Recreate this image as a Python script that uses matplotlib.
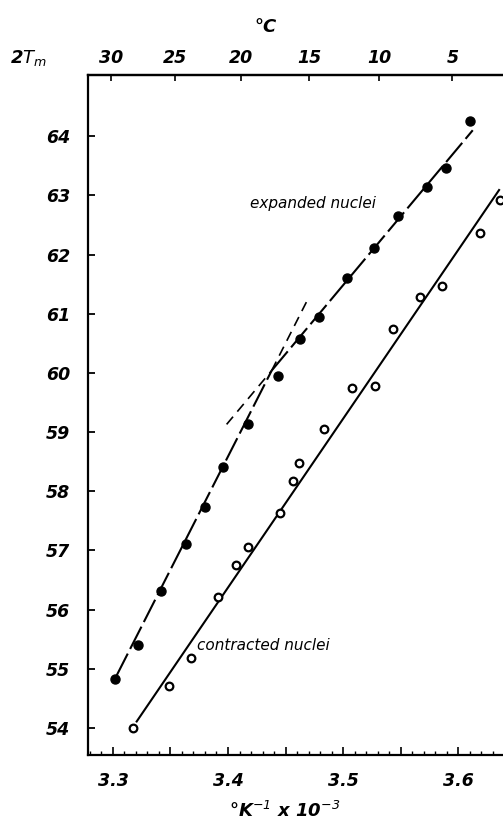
import numpy as np
import matplotlib.pyplot as plt
from matplotlib.ticker import MultipleLocator, FuncFormatter

plt.rcParams['font.family'] = 'DejaVu Sans'
plt.rcParams['font.style'] = 'italic'
plt.rcParams['mathtext.default'] = 'it'

# data (x in K^-1 x 10^-3, y = 2T_m)
exp_x = [3.302, 3.322, 3.342, 3.3635, 3.380, 3.3957, 3.4177, 3.4432,
         3.4626, 3.479, 3.5037, 3.5267, 3.5476, 3.5733, 3.5898, 3.6107]
exp_y = [54.83, 55.40, 56.32, 57.11, 57.73, 58.41, 59.13, 59.95,
         60.57, 60.94, 61.60, 62.11, 62.65, 63.14, 63.46, 64.25]

con_x = [3.317, 3.349, 3.368, 3.391, 3.4067, 3.4171, 3.445, 3.4563, 3.4617,
         3.4835, 3.5076, 3.5278, 3.5432, 3.567, 3.586, 3.619, 3.6365]
con_y = [54.00, 54.71, 55.18, 56.22, 56.75, 57.05, 57.64, 58.17, 58.47,
         59.06, 59.75, 59.77, 60.75, 61.28, 61.46, 62.37, 62.92]

# fitted lines (end points)
steep_x = [3.303, 3.438]
steep_y = [54.88, 60.04]
steep_ext_x = [3.438, 3.4693]
steep_ext_y = [60.04, 61.24]
flat_x = [3.438, 3.6128]
flat_y = [60.04, 64.10]
flat_ext_x = [3.3988, 3.438]
flat_ext_y = [59.13, 60.04]
con_line_x = [3.3206, 3.6357]
con_line_y = [54.11, 63.09]

y_ticks = [54, 55, 56, 57, 58, 59, 60, 61, 62, 63, 64]
celsius_ticks = [30, 25, 20, 15, 10, 5]

fig = plt.figure(figsize=(5.03, 8.31), dpi=100)
ax = fig.add_axes([0.175, 0.0915, 0.825, 0.818])

ax.plot(steep_x, steep_y, color='black', lw=1.5, ls=(0, (12, 2.5)))
ax.plot(flat_x, flat_y, color='black', lw=1.5, ls=(0, (12, 2.5)))
ax.plot(steep_ext_x, steep_ext_y, color='black', lw=1.2, ls=(0, (6, 4)))
ax.plot(flat_ext_x, flat_ext_y, color='black', lw=1.2, ls=(0, (6, 4)))
ax.plot(con_line_x, con_line_y, color='black', lw=1.5)

ax.plot(exp_x, exp_y, 'o', color='black', ms=6.5, clip_on=False)
ax.plot(con_x, con_y, 'o', mfc='white', mec='black', mew=1.6, ms=5.5,
        clip_on=False)

ax.text(3.419, 62.87, 'expanded nuclei', fontsize=11, va='center')
ax.text(3.373, 55.40, 'contracted nuclei', fontsize=11, va='center')

ax.set_xlim(3.2783, 3.6391)
ax.set_ylim(53.544, 65.03)

for s in ['left', 'bottom', 'top']:
    ax.spines[s].set_linewidth(1.6)
ax.spines['right'].set_visible(False)

ax.set_yticks(y_ticks)
ax.xaxis.set_major_locator(MultipleLocator(0.05))
ax.xaxis.set_minor_locator(MultipleLocator(0.01))
ax.xaxis.set_major_formatter(FuncFormatter(
    lambda v, p: ('%.1f' % v) if abs(v * 10 - round(v * 10)) < 1e-6 else ''))
ax.tick_params(axis='y', direction='in', length=5, width=1.3, pad=13,
               labelsize=12.5, right=False)
ax.tick_params(axis='x', which='major', direction='in', length=6, width=1.2,
               pad=12, labelsize=12.5, top=False)
ax.tick_params(axis='x', which='minor', direction='in', length=3, width=1,
               top=False)

sec = ax.secondary_xaxis('top', functions=(lambda x: 1000.0 / x - 273.15,
                                           lambda c: 1000.0 / (c + 273.15)))
sec.set_xticks(celsius_ticks)
sec.spines['top'].set_linewidth(1.6)
sec.tick_params(direction='in', length=4, width=1.2, pad=6, labelsize=12.5)

for lab in ax.get_xticklabels() + ax.get_yticklabels() + sec.get_xticklabels():
    lab.set_fontweight('bold')

fig.text(0.527, 0.967, '°C', fontsize=13, ha='center', va='center',
         fontweight='bold')
fig.text(0.02, 0.930, r'2$T_m$', fontsize=13, ha='left', va='center',
         fontweight='bold')
fig.text(0.565, 0.024, r'°K$^{-1}$ x 10$^{-3}$', fontsize=13,
         ha='center', va='center', fontweight='bold')

fig.savefig('out.png', dpi=100)
